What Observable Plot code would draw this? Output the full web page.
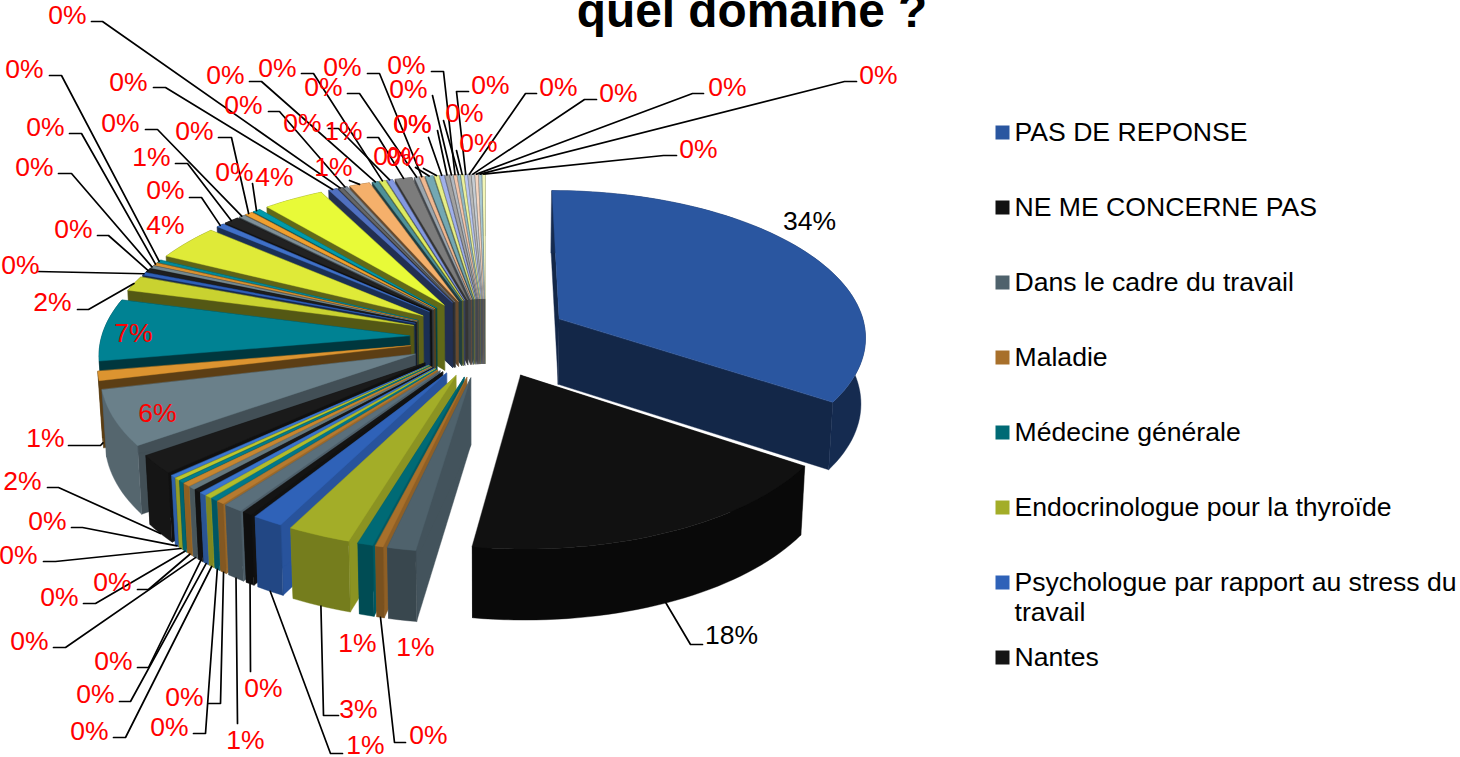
<!DOCTYPE html>
<html><head><meta charset="utf-8">
<style>html,body{margin:0;padding:0;background:#fff;overflow:hidden}</style>
<script src="https://cdn.jsdelivr.net/npm/d3@7"></script>
<script src="https://cdn.jsdelivr.net/npm/@observablehq/plot@0.6"></script>
</head><body><div id="chart"></div>
<script>
// Shares of the 60 answers, clockwise from 12 o'clock
const shares = [34.4,18.1,1.3,.35,.7,2.9,1.4,.45,.9,.35,.3,.3,.3,.3,.3,.35,.25,.25,.25,2,6,1,6.8,1.65,.3,.4,.3,.3,.3,3.9,.45,.9,.35,.45,.45,3.6,
  .49,.25,.25,1.2,.35,.35,.35,1,.25,.25,.45,.25,.25,.25,.17,.17,.17,.17,.17,.17,.17,.17,.17,.17];
const legendNames = ["PAS DE REPONSE","NE ME CONCERNE PAS","Dans le cadre du travail","Maladie","Médecine générale",
  "Endocrinologue pour la thyroïde","Psychologue par rapport au stress du\ntravail","Nantes"];
// Colour series repeats every 6 slices, one step lighter each round
const blues   = ["#2a56a0","#2f62b8","#3a74cc","#3a76d0","#2f5fb8","#3f70c8","#5070c0","#8398e0","#a0b0ea","#b8c5f0"];
const blacks  = ["#111111","#141414","#181818","#1a1a1a","#1e1e1e","#222222","#666666","#7c7c7c","#a0a0a0","#b8b8b8"];
const slates  = ["#4f626c","#5a6f7b","#64787f","#6a808a","#74888f","#7f9098","#7d8a95","#9aa5ad","#b0b8c0","#c5ccd2"];
const ambers  = ["#a8702b","#b67a2f","#c8862f","#dc9430","#d89030","#f0a030","#f5b06b","#f0b890","#f3c4a8","#f5d5c0"];
const teals   = ["#006a75","#00788a","#007e8c","#008293","#008a9a","#009aaa","#4e9199","#74a8b3","#8fb8c2","#a8c8d2"];
const olives  = ["#a3ad28","#b1bc2b","#bcc62e","#c9d230","#dfea38","#e8fa38","#ddeb60","#e6ef88","#eaf09a","#f3f6b8"];
const hues = [blues,blacks,slates,ambers,teals,olives];
// Office-style manual label layout: text centre, leader stub start/height, elbow
const labelLayout = [[809,221],[731,635,702,644,690],[415,647],[428,735,405,742,394],[357,643],[358,709,338,715,323],[365,745,342,753,330],
[263,688,250,671,250],[245,740,237,723,237],[184,697,208,703,220],[169,727,193,733,205],[89,731,113,737,125],[95,694,119,701,130],
[113,661,137,667,148],[29,641,53,647,65],[112,582,137,589,148],[59,597,83,603,95],[18,555,43,561,55],[47,521,71,527,82],[22,481,47,487,58],
[157,413],[45,438,68,445,100],[133,333],[52,302,77,309,88],[20,265,37,271,37],[73,229,97,235,108],[34,167,58,173,71],[45,127,69,133,81],
[24,69,49,75,61],[165,225],[165,190,189,197,201],[151,157,175,163,187],[120,123,145,129,157],[194,131,218,137,231],[234,172,252,183,252],
[274,177],[128,82,153,87,165],[67,15,91,21,102],[243,105,268,111,279],[333,167,349,180,349],[225,75,249,81,261],[277,68,301,73,313],
[302,123,328,128,338],[343,131,367,137,378],[323,87,347,93,359],[342,67,367,73,379],[392,156,415,167,415],[405,157,423,168,423],
[412,124,428,137,428],[412,124,437,130,437],[408,89,432,95,432],[406,65,431,71,443],[464,113,443,120,443],[478,143,456,150,456],
[490,85,468,91,456],[558,87,536,93,525],[618,93,596,99,584],[727,87,703,93,692],[878,75,856,81,844],[698,149,676,155,663]];

// 3D pie projection
const CX=485, CY=337, A=308, B=146, P=.109, E=.275, H=66;
function proj(u,v,z=0){
  const s=1/(1-P*v); let x=CX+A*u*s, y=CY+B*v*s;
  if(z){x=CX+(x-CX)*(1-.012*z); y+=H*Math.sqrt(s)*z;}
  return [x,y];
}
const total=d3.sum(shares);
let acc=0;
const slices=shares.map((v,i)=>{
  const a0=acc/total*2*Math.PI; acc+=v; const a1=acc/total*2*Math.PI; const m=(a0+a1)/2;
  const sx=Math.sin(m);
  return {i,v,a0,a1,m,ax:E*sx*(sx<0?.9:1),ay:-E*Math.cos(m),color:hues[i%6][Math.floor(i/6)]};
});
function shade(deg){ // side, outer brightness by position round the pie
  if(deg<187) return [.45,.5];
  if(deg<225) return [.85,.72];
  if(deg<250) return [.62,.8];
  return [.42,.42];
}
const dim=(c,k)=>{const r=d3.rgb(c);return d3.rgb(r.r*k,r.g*k,r.b*k).formatHex();};
const faces=[]; let fid=0;
function face(pts,color){const id=fid++;for(const [x,y] of pts)faces.push({id,x,y,color});}
const order=[...slices.slice(2).reverse(),slices[0],slices[1]];
for(const s of order){
  const n=Math.max(2,Math.ceil((s.a1-s.a0)/.03)+1);
  const arc=d3.range(n).map(k=>{const t=s.a0+(s.a1-s.a0)*k/(n-1);return [s.ax+Math.sin(t),s.ay-Math.cos(t)];});
  const [side,outer]=shade(s.m*180/Math.PI);
  const top=arc.map(p=>proj(p[0],p[1])), bot=arc.map(p=>proj(p[0],p[1],1));
  const at=proj(s.ax,s.ay), ab=proj(s.ax,s.ay,1);
  face([at,top[0],bot[0],ab],dim(s.color,side));
  face([at,top[n-1],bot[n-1],ab],dim(s.color,side));
  face([...top,...bot.slice().reverse()],dim(s.color,outer));
  face([at,...top],s.color);
}
// leaders and labels
const leaders=[],labels=[];
slices.forEach(s=>{
  const L=labelLayout[s.i]; const deg=s.m*180/Math.PI;
  labels.push({x:L[0],y:L[1],t:Math.round(s.v)+"%",c:s.i<2?"#000":"#f00"});
  if(L.length>2){
    const [ax,ay]=proj(s.ax+Math.sin(s.m),s.ay-Math.cos(s.m),(deg>95&&deg<262)?1:0);
    for(const [x,y] of [[L[2],L[3]],[L[4],L[3]],[ax,ay]]) leaders.push({id:s.i,x,y});
  }
});
const legendRows=legendNames.map((name,i)=>({name,x:1002,tx:1014,y:132+75*i,color:hues[i%6][Math.floor(i/6)]}));

const FONT="Liberation Sans, Arial, sans-serif";
const chart=Plot.plot({
  width:1460,height:757,margin:0,
  x:{axis:null,domain:[0,1460],range:[0,1460]},
  y:{axis:null,domain:[0,757],range:[0,757]},
  color:{type:"identity"},
  style:{background:"#fff",fontFamily:FONT},
  marks:[
    Plot.line(faces,{x:"x",y:"y",z:"id",fill:"color",stroke:"color",strokeWidth:.4,curve:"linear-closed"}),
    Plot.line(leaders,{x:"x",y:"y",z:"id",stroke:"#000",strokeWidth:1.7,curve:"linear"}),
    Plot.text(labels,{x:"x",y:"y",text:"t",fill:"c",fontSize:26.5,fontFamily:FONT}),
    Plot.text(["quel domaine ?"],{x:[751.5],y:[11],text:d=>d,fontSize:47.8,fontWeight:"bold",fill:"#000",fontFamily:FONT}),
    Plot.dot(legendRows,{x:"x",y:"y",fill:"color",symbol:"square",r:7.9}),
    Plot.text(legendRows,{x:"tx",y:"y",text:"name",textAnchor:"start",lineAnchor:"top",dy:-12.4,lineHeight:1.128,fontSize:26.6,fill:"#000",fontFamily:FONT})
  ]
});
document.getElementById("chart").appendChild(chart);
</script></body></html>
